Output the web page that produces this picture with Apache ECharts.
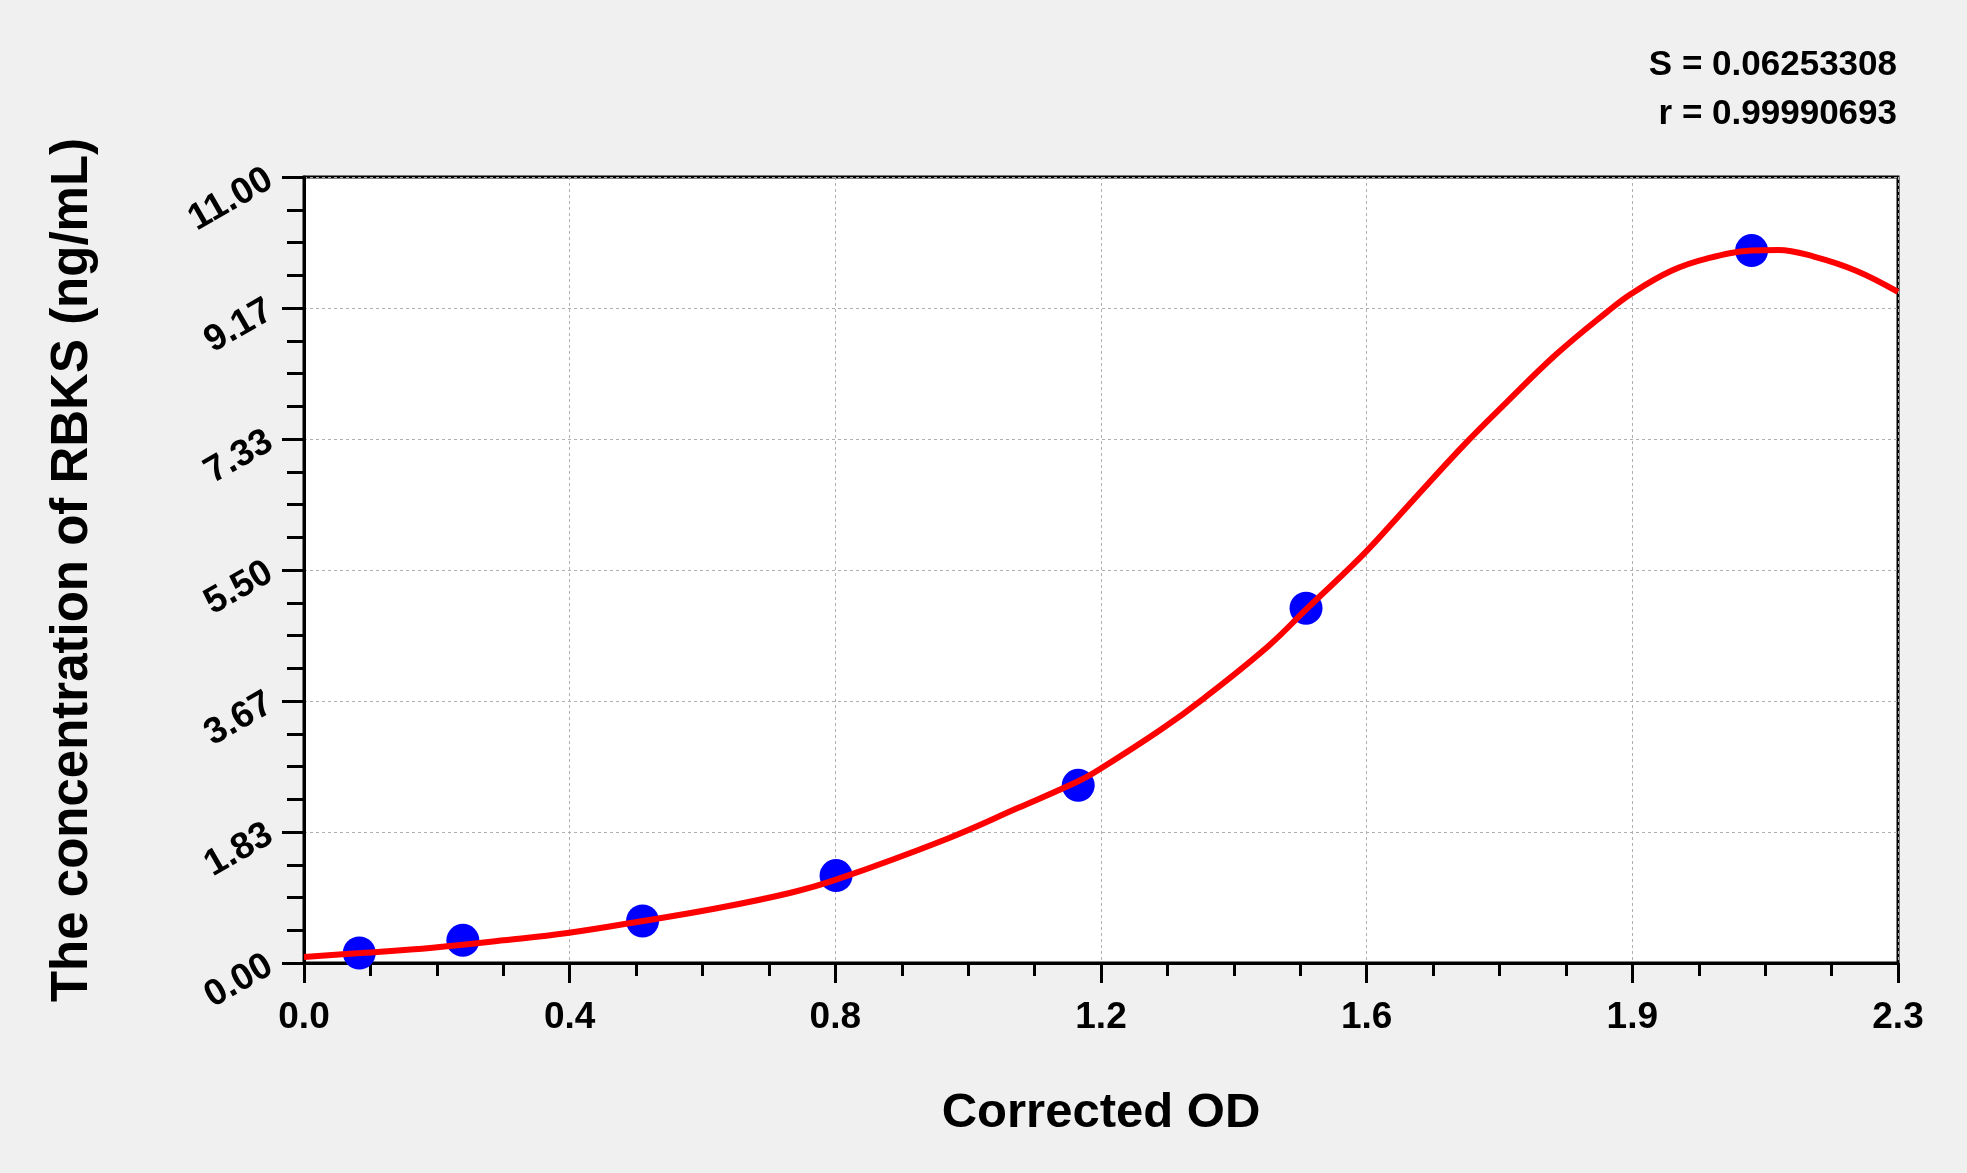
<!DOCTYPE html>
<html>
<head>
<meta charset="utf-8">
<script src="https://cdn.jsdelivr.net/npm/echarts@6/dist/echarts.min.js"></script>
<style>
html,body{margin:0;padding:0;background:#f0f0f0;}
#c{width:1967px;height:1173px;}
</style>
</head>
<body>
<div id="c"></div>
<script>
// ---- data ----
const pointX = [0.0808, 0.2322, 0.4949, 0.7777, 1.1317, 1.4647, 2.116];
const pointY = [0.140, 0.317, 0.588, 1.223, 2.487, 4.966, 9.970];

const curveX = [0, 0.0835, 0.188, 0.292, 0.385, 0.495, 0.6055, 0.71, 0.7777, 0.9395, 1.044, 1.1317, 1.1624, 1.2527, 1.3154, 1.4094, 1.4647, 1.5507, 1.6112, 1.6964, 1.7574, 1.8305, 1.9035, 1.9407, 1.998, 2.0503, 2.116, 2.1548, 2.207, 2.2696, 2.33];
const curveY = [0.085, 0.14, 0.214, 0.317, 0.42, 0.588, 0.77, 0.98, 1.166, 1.736, 2.171, 2.543, 2.707, 3.267, 3.705, 4.434, 4.947, 5.74, 6.372, 7.258, 7.842, 8.518, 9.102, 9.37, 9.685, 9.858, 9.970, 9.979, 9.886, 9.685, 9.391];

const xTickLabels = ['0.0', '0.4', '0.8', '1.2', '1.6', '1.9', '2.3'];
const yTickLabels = ['0.00', '1.83', '3.67', '5.50', '7.33', '9.17', '11.00'];
const xMax = 2.33;
const yMax = 11;

const xTitle = 'Corrected OD';
const yTitle = 'The concentration of RBKS (ng/mL)';
const statS = 'S = 0.06253308';
const statR = 'r = 0.99990693';

// ---- chart ----
const FONT = '"Liberation Sans", Arial, sans-serif';
const xStep = xMax / 6;
const yStep = yMax / 6;

const chart = echarts.init(document.getElementById('c'), null, {renderer: 'canvas'});
chart.setOption({
  backgroundColor: '#f0f0f0',
  animation: false,
  grid: {
    left: 304, right: 69, top: 177, bottom: 210,
    show: true, backgroundColor: '#ffffff',
    borderColor: '#000', borderWidth: 3
  },
  graphic: [
    {type: 'text', right: 70, top: 48, style: {text: statS, fill: '#000', font: 'bold 35px ' + FONT, textAlign: 'right'}},
    {type: 'text', right: 70, top: 97, style: {text: statR, fill: '#000', font: 'bold 35px ' + FONT, textAlign: 'right'}}
  ],
  xAxis: {
    type: 'value', min: 0, max: xMax, interval: xStep,
    name: xTitle, nameLocation: 'middle', nameGap: 126,
    nameTextStyle: {fontFamily: FONT, fontWeight: 'bold', fontSize: 49, color: '#000'},
    axisLine: {show: true, onZero: false, lineStyle: {color: '#000', width: 3}},
    axisTick: {show: true, inside: false, length: 20, lineStyle: {color: '#000', width: 3}},
    minorTick: {show: true, splitNumber: 4, length: 13, lineStyle: {color: '#000', width: 3}},
    axisLabel: {
      margin: 36, fontFamily: FONT, fontWeight: 'bold', fontSize: 37, color: '#000',
      formatter: function (v) { return xTickLabels[Math.round(v / xStep)]; }
    },
    splitLine: {show: true, lineStyle: {color: '#b0b0b0', width: 1, type: [3, 3]}}
  },
  yAxis: {
    type: 'value', min: 0, max: yMax, interval: yStep,
    name: yTitle, nameLocation: 'middle', nameGap: 206,
    nameTextStyle: {fontFamily: FONT, fontWeight: 'bold', fontSize: 51, color: '#000'},
    axisLine: {show: true, onZero: false, lineStyle: {color: '#000', width: 3}},
    axisTick: {show: true, inside: false, length: 22, lineStyle: {color: '#000', width: 3}},
    minorTick: {show: true, splitNumber: 4, length: 17, lineStyle: {color: '#000', width: 3}},
    axisLabel: {
      margin: 34, rotate: 30, fontFamily: FONT, fontWeight: 'bold', fontSize: 37, color: '#000',
      formatter: function (v) { return yTickLabels[Math.round(v / yStep)]; }
    },
    splitLine: {show: true, lineStyle: {color: '#b0b0b0', width: 1, type: [3, 3]}}
  },
  series: [
    {
      type: 'scatter', z: 2,
      data: pointX.map((x, i) => [x, pointY[i]]),
      symbol: 'circle', symbolSize: 33,
      itemStyle: {color: '#0000ff', opacity: 1}
    },
    {
      type: 'line', z: 3,
      data: curveX.map((x, i) => [x, curveY[i]]),
      showSymbol: false, symbol: 'none',
      smooth: 0.4,
      lineStyle: {color: '#ff0000', width: 6},
      clip: true
    }
  ]
});
</script>
</body>
</html>
